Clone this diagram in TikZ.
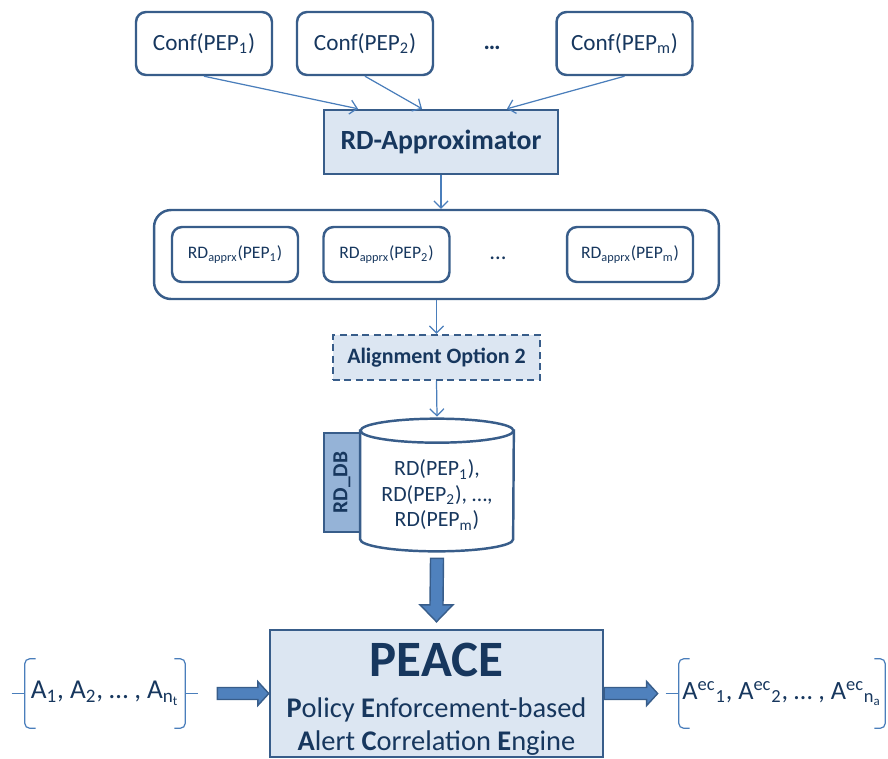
\documentclass[tikz,border=0pt]{standalone}
\usepackage{fontspec}
\setmainfont{Carlito}
\usetikzlibrary{calc,arrows.meta}

\definecolor{navy}{HTML}{17375E}
\definecolor{edge}{HTML}{385D8A}
\definecolor{pale}{HTML}{DCE6F2}
\definecolor{link}{HTML}{4A7EBB}
\definecolor{fatblue}{HTML}{4F81BD}
\definecolor{tabblue}{HTML}{95B3D7}

\begin{document}
\begin{tikzpicture}[x=0.02cm, y=-0.02cm, >={Straight Barb[length=4pt,width=8pt]}]
    \tikzstyle{every node} = [text=navy, inner sep=0pt]
    \tikzstyle{conf} = [rectangle, draw=edge, line width=1.4pt, rounded corners=0.2cm,
        minimum width=2.72cm, minimum height=1.26cm, font=\fontsize{13.2pt}{16pt}\selectfont]
    \tikzstyle{apx} = [rectangle, draw=edge, line width=1.4pt, rounded corners=0.2cm,
        minimum width=2.52cm, minimum height=1.1cm, font=\fontsize{10pt}{12pt}\selectfont]
    \tikzstyle{proc} = [rectangle, draw=edge, fill=pale, line width=1.4pt]
    \tikzstyle{link} = [->, draw=link, line width=0.7pt]
    \tikzstyle{fat} = [draw=edge, fill=fatblue, line width=0.8pt, line join=miter]
    \tikzstyle{setb} = [draw=link, line width=0.7pt, rounded corners=3pt]

    \useasboundingbox (0,0) rectangle (888,758);

    % configurations
    \node[conf] (c1) at (204,43.5) {Conf(PEP\textsubscript{1})};
    \node[conf] (c2) at (365,43.5) {Conf(PEP\textsubscript{2})};
    \node (cdots) at (492,48) {\fontsize{13.6pt}{16pt}\selectfont\bfseries …};
    \node[conf] (cm) at (624.5,43.5) {Conf(PEP\textsubscript{m})};

    \node[proc, minimum width=4.68cm, minimum height=1.28cm,
        font=\fontsize{15.8pt}{18pt}\selectfont\bfseries] (ap) at (441,142) {RD-Approximator};

    % approximated RDs
    \node[rectangle, draw=edge, line width=1.4pt, rounded corners=0.34cm,
        minimum width=11.3cm, minimum height=1.78cm] (grp) at (436.5,254.5) {};
    \node[apx] (r1) at (235,254.5) {RD\textsubscript{apprx}(PEP\textsubscript{1})};
    \node[apx] (r2) at (386.5,254.5) {RD\textsubscript{apprx}(PEP\textsubscript{2})};
    \node (rdots) at (498,258) {\fontsize{13pt}{16pt}\selectfont …};
    \node[apx] (rm) at (630,254.5) {RD\textsubscript{apprx}(PEP\textsubscript{m})};

    \node[proc, dashed, dash pattern=on 4pt off 2.5pt, minimum width=4.14cm, minimum height=0.9cm,
        font=\fontsize{12.5pt}{15pt}\selectfont\bfseries] (al) at (436.5,357.5) {Alignment Option 2};

    % database
    \node[rectangle, draw=edge, fill=tabblue, line width=1.4pt, rotate=90,
        minimum width=1.98cm, minimum height=0.72cm,
        font=\fontsize{12.2pt}{14pt}\selectfont\bfseries] (tab) at (342,482.5) {RD\_DB};
    \node[minimum width=3.06cm, minimum height=2.64cm] (db) at (437,485) {};
    \draw[draw=edge, line width=1.4pt, fill=white]
        ($(db.north west)+(0,12)$) -- ($(db.south west)+(0,-12)$)
        arc[start angle=180, end angle=360, x radius=1.53cm, y radius=0.24cm]
        -- ($(db.north east)+(0,12)$) -- cycle;
    \draw[draw=edge, line width=1.4pt, fill=white]
        ($(db.north)+(0,12)$) ellipse [x radius=1.53cm, y radius=0.24cm];
    \node[align=center, font=\fontsize{12.4pt}{14.5pt}\selectfont] (dbt) at (437,495)
        {RD(PEP\textsubscript{1}),\\RD(PEP\textsubscript{2}), …,\\RD(PEP\textsubscript{m})};

    % engine
    \node[proc, minimum width=6.66cm, minimum height=2.54cm] (pc) at (436.5,693.5) {};
    \node[align=center, font=\fontsize{16.2pt}{18.7pt}\selectfont] (pct) at (436.5,699)
        {{\fontsize{29pt}{30pt}\selectfont\bfseries PEACE}\\[5pt]
         \textbf{P}olicy \textbf{E}nforcement-based\\
         \textbf{A}lert \textbf{C}orrelation \textbf{E}ngine};

    % alert sets
    \node[minimum width=3.2cm, minimum height=1.38cm, font=\fontsize{15.5pt}{18pt}\selectfont] (ins) at (105,693.5)
        {A\textsubscript{1}, A\textsubscript{2}, … , A\textsubscript{n\textsubscript{t}}};
    \node[minimum width=4.12cm, minimum height=1.38cm, font=\fontsize{15pt}{18pt}\selectfont] (outs) at (782,693.5)
        {A\textsuperscript{ec}\textsubscript{1}, A\textsuperscript{ec}\textsubscript{2}, … , A\textsuperscript{ec}\textsubscript{n\textsubscript{a}}};

    \draw[setb] ($(ins.north west)+(11,0)$) -- (ins.north west) -- (ins.south west) -- ($(ins.south west)+(11,0)$);
    \draw[setb] ($(ins.west)+(-13,0)$) -- (ins.west);
    \draw[setb] ($(ins.north east)+(-11,0)$) -- (ins.north east) -- (ins.south east) -- ($(ins.south east)+(-11,0)$);
    \draw[setb] (ins.east) -- ($(ins.east)+(13,0)$);
    \draw[setb] ($(outs.north west)+(11,0)$) -- (outs.north west) -- (outs.south west) -- ($(outs.south west)+(11,0)$);
    \draw[setb] ($(outs.west)+(-13,0)$) -- (outs.west);
    \draw[setb] ($(outs.north east)+(-11,0)$) -- (outs.north east) -- (outs.south east) -- ($(outs.south east)+(-11,0)$);

    % thin connectors
    \draw[link] (c1.south) -- ($(ap.north)+(-83,0)$);
    \draw[link] (c2.south) -- ($(ap.north)+(-19,0)$);
    \draw[link] (cm.south) -- ($(ap.north)+(66,0)$);
    \draw[link] (ap.south) -- (ap.south |- grp.north);
    \draw[link] (grp.south) -- (al.north);
    \draw[link] (al.south) -- ($(db.north)+(0,-2)$);

    % block arrows
    \coordinate (s1) at ($(db.south)+(0,7)$);
    \coordinate (t1) at ($(pc.north)+(0,-7)$);
    \draw[fat] ($(s1)+(-6.5,0)$) -- ($(t1)+(-6.5,-17)$) -- ($(t1)+(-16.5,-17)$) -- (t1)
        -- ($(t1)+(16.5,-17)$) -- ($(t1)+(6.5,-17)$) -- ($(s1)+(6.5,0)$) -- cycle;
    \coordinate (s2) at ($(ins.east)+(32,0)$);
    \coordinate (t2) at (pc.west);
    \draw[fat] ($(s2)+(0,-6)$) -- ($(t2)+(-11,-6)$) -- ($(t2)+(-11,-12)$) -- (t2)
        -- ($(t2)+(-11,12)$) -- ($(t2)+(-11,6)$) -- ($(s2)+(0,6)$) -- cycle;
    \coordinate (s3) at (pc.east);
    \coordinate (t3) at ($(outs.west)+(-21,0)$);
    \draw[fat] ($(s3)+(0,-6)$) -- ($(t3)+(-11,-6)$) -- ($(t3)+(-11,-12)$) -- (t3)
        -- ($(t3)+(-11,12)$) -- ($(t3)+(-11,6)$) -- ($(s3)+(0,6)$) -- cycle;
\end{tikzpicture}
\end{document}
